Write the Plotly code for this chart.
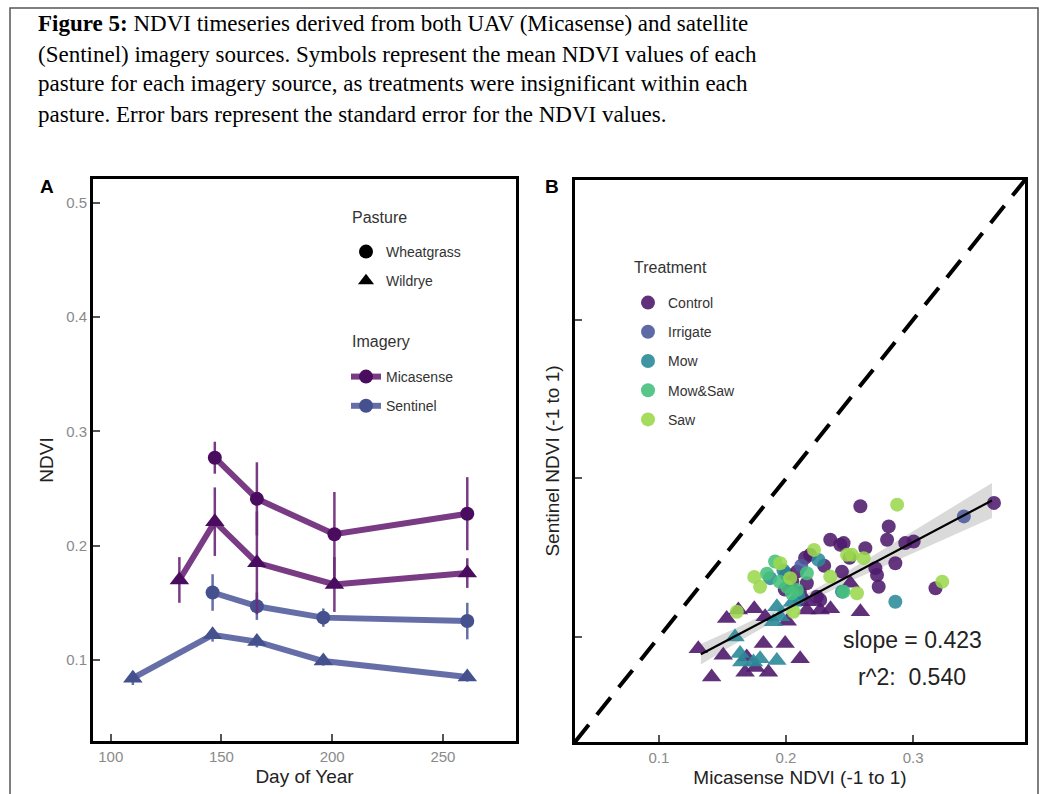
import plotly.graph_objects as go

W, H = 1044, 794

def px(x):
    return x / W

def py(y):
    return 1 - y / H

# ---------------- caption ----------------
caption_lines = [
    "<b>Figure 5:</b> NDVI timeseries derived from both UAV (Micasense) and satellite",
    "(Sentinel) imagery sources. Symbols represent the mean NDVI values of each",
    "pasture for each imagery source, as treatments were insignificant within each",
    "pasture. Error bars represent the standard error for the NDVI values.",
]

# ---------------- panel A data ----------------
mica_wheat_day = [147, 166, 201, 261]
mica_wheat_ndvi = [0.277, 0.241, 0.210, 0.228]
mica_wheat_se = [0.014, 0.032, 0.037, 0.032]

mica_wild_day = [131, 147, 166, 201, 261]
mica_wild_ndvi = [0.170, 0.221, 0.185, 0.166, 0.176]
mica_wild_se = [0.020, 0.030, 0.045, 0.024, 0.013]

sent_wheat_day = [146, 166, 196, 261]
sent_wheat_ndvi = [0.159, 0.147, 0.137, 0.134]
sent_wheat_se = [0.016, 0.012, 0.008, 0.016]

sent_wild_day = [110, 146, 166, 196, 261]
sent_wild_ndvi = [0.084, 0.122, 0.116, 0.099, 0.085]
sent_wild_se = [0.006, 0.006, 0.005, 0.004, 0.004]

a_xticks = [100, 150, 200, 250]
a_yticks = [0.1, 0.2, 0.3, 0.4, 0.5]

# ---------------- panel B data ----------------
treatments = ["Control", "Irrigate", "Mow", "Mow&Saw", "Saw"]
treat_colors = ["#4f1a6c", "#4b5a9c", "#2b8a99", "#47c07c", "#9bd84c"]

# wheatgrass (circles): Micasense NDVI, Sentinel NDVI
circ_control_x = [0.2585, 0.3636, 0.2808, 0.2795, 0.2938, 0.3004, 0.2348, 0.2427,
                  0.2453, 0.2624, 0.2190, 0.2860, 0.2703, 0.2716, 0.2729, 0.3176,
                  0.2440, 0.2086, 0.2164, 0.2243, 0.2269, 0.1990, 0.2110, 0.2050,
                  0.2300, 0.2150, 0.2500, 0.2000]
circ_control_y = [0.1825, 0.1846, 0.1698, 0.1614, 0.1593, 0.1603, 0.1614, 0.1582,
                  0.1593, 0.1561, 0.1519, 0.1466, 0.1435, 0.1392, 0.1318, 0.1308,
                  0.1413, 0.1413, 0.1340, 0.1255, 0.1234, 0.1300, 0.1280, 0.1350,
                  0.1450, 0.1500, 0.1500, 0.1400]
circ_irrigate_x = [0.3399, 0.2120]
circ_irrigate_y = [0.1761, 0.1450]
circ_mow_x = [0.2256, 0.1875, 0.2860, 0.2440, 0.2100, 0.1980]
circ_mow_y = [0.1487, 0.1372, 0.1223, 0.1287, 0.1250, 0.1420]
circ_mowsaw_x = [0.1914, 0.2086, 0.2164, 0.2453, 0.2007, 0.2046, 0.1850, 0.1950]
circ_mowsaw_y = [0.1477, 0.1297, 0.1403, 0.1287, 0.1318, 0.1277, 0.1400, 0.1350]
circ_saw_x = [0.2874, 0.3229, 0.2519, 0.2611, 0.2558, 0.1796, 0.2033, 0.2348,
              0.1954, 0.1613, 0.2059, 0.2480, 0.1750, 0.2220]
circ_saw_y = [0.1835, 0.1350, 0.1519, 0.1498, 0.1277, 0.1318, 0.1372, 0.1382,
              0.1466, 0.1160, 0.1160, 0.1519, 0.1380, 0.1550]

# wildrye (triangles)
tri_control_x = [0.1310, 0.1415, 0.1506, 0.1533, 0.1625, 0.1691, 0.1678, 0.1822,
                 0.1862, 0.1836, 0.1993, 0.2111, 0.2164, 0.2269, 0.2585, 0.2164,
                 0.2506, 0.2010, 0.1760, 0.1750, 0.2350]
tri_control_y = [0.0928, 0.0749, 0.0886, 0.1118, 0.1171, 0.0875, 0.0780, 0.0960,
                 0.0780, 0.1129, 0.0960, 0.0865, 0.1171, 0.1171, 0.1160, 0.1223,
                 0.1340, 0.1100, 0.0810, 0.1180, 0.1180]
tri_mow_x = [0.1599, 0.1652, 0.1796, 0.1954, 0.1928, 0.1928, 0.1744, 0.1901, 0.1639,
             0.2050]
tri_mow_y = [0.1002, 0.0844, 0.0865, 0.1129, 0.0854, 0.1192, 0.0844, 0.1097, 0.0897,
             0.1220]

circles = {
    "Control": (circ_control_x, circ_control_y),
    "Irrigate": (circ_irrigate_x, circ_irrigate_y),
    "Mow": (circ_mow_x, circ_mow_y),
    "Mow&Saw": (circ_mowsaw_x, circ_mowsaw_y),
    "Saw": (circ_saw_x, circ_saw_y),
}
triangles = {
    "Control": (tri_control_x, tri_control_y),
    "Mow": (tri_mow_x, tri_mow_y),
}

b_range = [0.034, 0.388]
b_ticks = [0.1, 0.2, 0.3]
fit_slope = 0.423
fit_intercept = 0.033
fit_r2 = 0.540
fit_x = [0.133, 0.362]
band_x = [0.133, 0.16, 0.19, 0.22, 0.25, 0.28, 0.31, 0.34, 0.362]
band_hw = [0.0065, 0.0048, 0.0036, 0.0031, 0.0036, 0.0055, 0.0075, 0.0095, 0.0110]

# ---------------- figure ----------------
FONT = "Liberation Sans, Arial, sans-serif"
MICA_LINE = "rgba(108,42,122,0.92)"
MICA_MARK = "#4a0c5e"
SENT_LINE = "rgba(88,98,160,0.92)"
SENT_MARK = "#45518f"

fig = go.Figure()

def series(x, y, se, line_c, mark_c, symbol, size):
    fig.add_trace(go.Scatter(
        x=x, y=y, mode="lines+markers", xaxis="x", yaxis="y",
        line=dict(color=line_c, width=6),
        marker=dict(color=mark_c, symbol=symbol, size=size),
        error_y=dict(type="data", array=se, color=line_c, thickness=2.5, width=0),
        showlegend=False, hoverinfo="skip"))

series(sent_wild_day, sent_wild_ndvi, sent_wild_se, SENT_LINE, SENT_MARK, "triangle-up", 17)
series(sent_wheat_day, sent_wheat_ndvi, sent_wheat_se, SENT_LINE, SENT_MARK, "circle", 14)
series(mica_wild_day, mica_wild_ndvi, mica_wild_se, MICA_LINE, MICA_MARK, "triangle-up", 17)
series(mica_wheat_day, mica_wheat_ndvi, mica_wheat_se, MICA_LINE, MICA_MARK, "circle", 14)

# Panel A legends
for name, sym in [("Wheatgrass", "circle"), ("Wildrye", "triangle-up")]:
    fig.add_trace(go.Scatter(x=[None], y=[None], mode="markers", xaxis="x", yaxis="y",
                             name=name, legend="legend", legendgroup=name,
                             marker=dict(color="black", symbol=sym, size=14)))
for name, lc, mc in [("Micasense", MICA_LINE, MICA_MARK), ("Sentinel", SENT_LINE, SENT_MARK)]:
    fig.add_trace(go.Scatter(x=[None], y=[None], mode="lines+markers", xaxis="x", yaxis="y",
                             name=name, legend="legend2", legendgroup=name,
                             line=dict(color=lc, width=6),
                             marker=dict(color=mc, symbol="circle", size=14)))

# Panel B: 1:1 dashed line
fig.add_trace(go.Scatter(x=b_range, y=b_range, mode="lines", xaxis="x2", yaxis="y2",
                         line=dict(color="black", width=4, dash="22px,13px"),
                         showlegend=False, hoverinfo="skip"))

# confidence band
band_up = [fit_intercept + fit_slope * x + h for x, h in zip(band_x, band_hw)]
band_lo = [fit_intercept + fit_slope * x - h for x, h in zip(band_x, band_hw)]
fig.add_trace(go.Scatter(x=band_x + band_x[::-1], y=band_up + band_lo[::-1],
                         mode="lines", fill="toself", xaxis="x2", yaxis="y2",
                         fillcolor="rgba(150,150,150,0.35)", line=dict(width=0),
                         showlegend=False, hoverinfo="skip"))

# points
for t, c in zip(treatments, treat_colors):
    if t in triangles:
        tx, ty = triangles[t]
        fig.add_trace(go.Scatter(x=tx, y=ty, mode="markers", xaxis="x2", yaxis="y2",
                                 marker=dict(color=c, symbol="triangle-up", size=17, opacity=0.9,
                                             line=dict(width=0)),
                                 showlegend=False, hoverinfo="skip"))
for t, c in zip(treatments, treat_colors):
    cx, cy = circles[t]
    fig.add_trace(go.Scatter(x=cx, y=cy, mode="markers", xaxis="x2", yaxis="y2",
                             marker=dict(color=c, size=14, opacity=0.88, line=dict(width=0)),
                             showlegend=False, hoverinfo="skip"))

# regression line
fit_y = [fit_intercept + fit_slope * x for x in fit_x]
fig.add_trace(go.Scatter(x=fit_x, y=fit_y, mode="lines", xaxis="x2", yaxis="y2",
                         line=dict(color="black", width=2.2),
                         showlegend=False, hoverinfo="skip"))

# treatment legend entries
for t, c in zip(treatments, treat_colors):
    fig.add_trace(go.Scatter(x=[None], y=[None], mode="markers", xaxis="x2", yaxis="y2",
                             name=t, legend="legend3", legendgroup=t,
                             marker=dict(color=c, size=14, opacity=0.9)))

axis_common = dict(showgrid=False, zeroline=False, showline=True, linecolor="black",
                   linewidth=3, mirror=True, ticks="inside", ticklen=7, tickwidth=1.5,
                   tickcolor="#555", tickfont=dict(family=FONT, size=15, color="#8a8a8a"))

legend_common = dict(bgcolor="rgba(0,0,0,0)", traceorder="grouped", tracegroupgap=8,
                     font=dict(family=FONT, size=14, color="#333"),
                     xanchor="left", yanchor="top", itemwidth=30)

TITLE_FONT = dict(family=FONT, size=19, color="#222")

fig.update_layout(
    width=W, height=794, margin=dict(l=0, r=0, t=0, b=0),
    paper_bgcolor="white", plot_bgcolor="white",
    font=dict(family=FONT, color="#222"),
    xaxis=dict(domain=[px(93), px(516)], range=[92, 283], tickvals=a_xticks,
               anchor="y", title=dict(text="Day of Year", font=TITLE_FONT, standoff=6),
               **axis_common),
    yaxis=dict(domain=[py(741), py(179)], range=[0.029, 0.521], tickvals=a_yticks,
               anchor="x", title=dict(text="NDVI", font=TITLE_FONT, standoff=8),
               **axis_common),
    xaxis2=dict(domain=[px(575), px(1025)], range=b_range, tickvals=b_ticks, anchor="y2",
                title=dict(text="Micasense NDVI (-1 to 1)", font=TITLE_FONT, standoff=6),
                **axis_common),
    yaxis2=dict(domain=[py(742), py(180)], range=b_range, tickvals=b_ticks, anchor="x2",
                showticklabels=False,
                title=dict(text="Sentinel NDVI (-1 to 1)", font=TITLE_FONT, standoff=8),
                **axis_common),
    legend=dict(x=px(346), y=py(236), **legend_common),
    legend2=dict(x=px(346), y=py(361), **legend_common),
    legend3=dict(x=px(628), y=py(287), **legend_common),
)

annotations = []
cap_y = [24, 54, 84, 114]
for line, yy in zip(caption_lines, cap_y):
    annotations.append(dict(text=line, x=px(36), y=py(yy), xref="paper", yref="paper",
                            xanchor="left", yanchor="middle", showarrow=False,
                            font=dict(family="Liberation Serif, Times New Roman, serif",
                                      size=23, color="black")))
LEG_TITLE = dict(family=FONT, size=16, color="#333")
for txt, xx, yy in [("Pasture", 350, 217), ("Imagery", 350, 341), ("Treatment", 632, 267)]:
    annotations.append(dict(text=txt, x=px(xx), y=py(yy), xref="paper", yref="paper",
                            xanchor="left", yanchor="middle", showarrow=False, font=LEG_TITLE))
annotations.append(dict(text="<b>A</b>", x=px(47), y=py(187), xref="paper", yref="paper",
                        xanchor="center", yanchor="middle", showarrow=False,
                        font=dict(family=FONT, size=19, color="black")))
annotations.append(dict(text="<b>B</b>", x=px(552), y=py(186), xref="paper", yref="paper",
                        xanchor="center", yanchor="middle", showarrow=False,
                        font=dict(family=FONT, size=19, color="black")))
annotations.append(dict(text="slope = %.3f" % fit_slope, x=px(912), y=py(640), xref="paper",
                        yref="paper", xanchor="center", yanchor="middle", showarrow=False,
                        font=dict(family=FONT, size=23, color="#222")))
annotations.append(dict(text="r^2:  %.3f" % fit_r2, x=px(912), y=py(677), xref="paper",
                        yref="paper", xanchor="center", yanchor="middle", showarrow=False,
                        font=dict(family=FONT, size=23, color="#222")))
fig.update_layout(annotations=annotations)

fig.update_layout(shapes=[dict(type="rect", xref="paper", yref="paper",
                               x0=px(10), x1=px(1038), y0=-0.05, y1=py(8),
                               line=dict(color="#555", width=1.5))])

fig.write_html("out.html")
